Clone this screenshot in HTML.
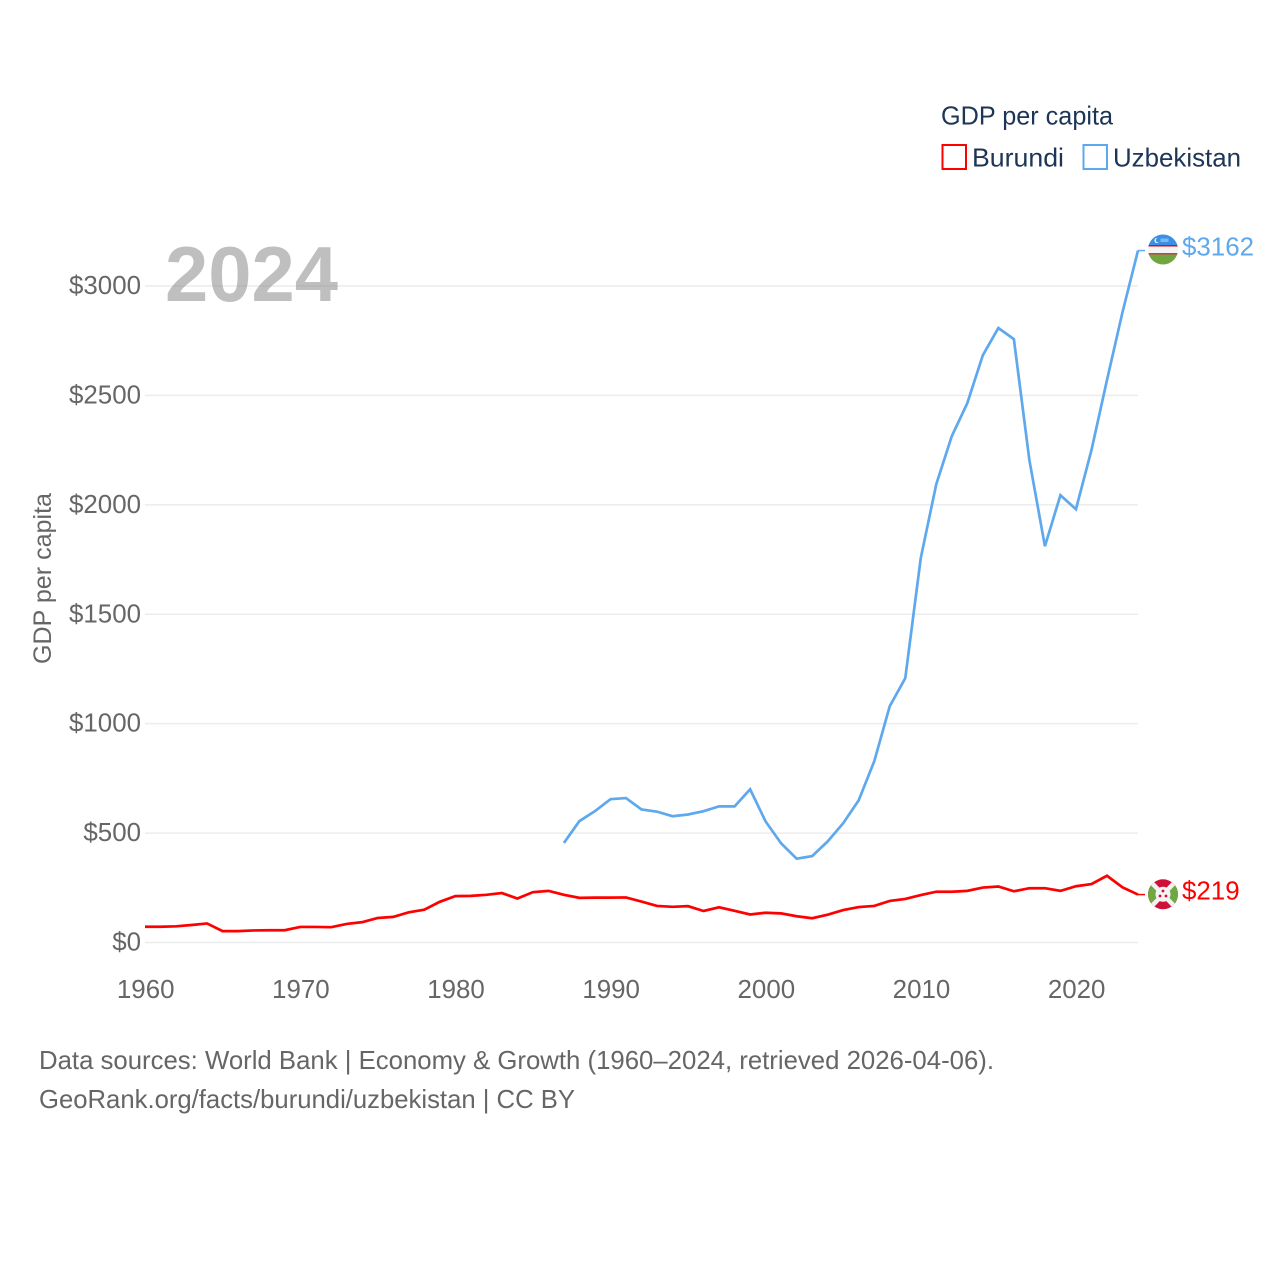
<!DOCTYPE html>
<html lang="en">
<head>
<meta charset="utf-8">
<title>GDP per capita: Burundi and Uzbekistan</title>
<style>
html,body{margin:0;padding:0;background:#fff;width:1280px;height:1280px;overflow:hidden}
svg{display:block}
text{font-family:"Liberation Sans",sans-serif}
</style>
</head>
<body>
<svg id="chart" width="1280" height="1280" viewBox="0 0 1280 1280" xmlns="http://www.w3.org/2000/svg">
  <defs>
    <clipPath id="flag-clip-uz"><circle cx="1163" cy="249.5" r="15"/></clipPath>
    <clipPath id="flag-clip-bi"><circle cx="1163" cy="894.3" r="15"/></clipPath>
  </defs>
  <rect width="1280" height="1280" fill="#fff"/>
  <g id="grid"></g>
  <g id="y-ticks"></g>
  <g id="x-ticks"></g>
  <g id="series"></g>

  <text x="165" y="301" font-size="78" font-weight="700" fill="#808080" fill-opacity="0.5" textLength="173" lengthAdjust="spacingAndGlyphs">2024</text>
  <text transform="translate(51 664) rotate(-90)" font-size="25" fill="#666" textLength="171" lengthAdjust="spacingAndGlyphs">GDP per capita</text>

  <g>
    <text x="941" y="124.5" font-size="26" fill="#1d3557" textLength="172" lengthAdjust="spacingAndGlyphs">GDP per capita</text>
    <rect x="942.5" y="145" width="23.5" height="24" fill="#fff" stroke="#ff0000" stroke-width="2"/>
    <text x="972" y="166.5" font-size="26" fill="#1d3557" textLength="92" lengthAdjust="spacingAndGlyphs">Burundi</text>
    <rect x="1083.5" y="145" width="23.5" height="24" fill="#fff" stroke="#5ea8ee" stroke-width="2"/>
    <text x="1113" y="166.5" font-size="26" fill="#1d3557" textLength="128" lengthAdjust="spacingAndGlyphs">Uzbekistan</text>
  </g>

  <g clip-path="url(#flag-clip-uz)">
    <rect x="1148" y="234" width="30" height="11" fill="#3a8fe6"/>
    <rect x="1148" y="245" width="30" height="1.5" fill="#ce1126"/>
    <rect x="1148" y="246.5" width="30" height="6.5" fill="#f4f4f4"/>
    <rect x="1148" y="253" width="30" height="1.5" fill="#c9404c"/>
    <rect x="1148" y="254.5" width="30" height="11" fill="#6fa63f"/>
    <circle cx="1157" cy="240.5" r="2.6" fill="#e8f2fc"/>
    <circle cx="1158.2" cy="240.2" r="2.3" fill="#3a8fe6"/>
    <rect x="1160.5" y="238.5" width="8" height="3.5" fill="#7fb6ee"/>
  </g>
  <g clip-path="url(#flag-clip-bi)">
    <rect x="1148" y="879" width="30" height="31" fill="#cf1037"/>
    <polygon points="1148,879 1163,894.3 1148,910" fill="#6fa843"/>
    <polygon points="1178,879 1163,894.3 1178,910" fill="#6fa843"/>
    <line x1="1148" y1="879" x2="1178" y2="910" stroke="#f2f2f2" stroke-width="4.5"/>
    <line x1="1178" y1="879" x2="1148" y2="910" stroke="#f2f2f2" stroke-width="4.5"/>
    <circle cx="1163" cy="894.3" r="7.5" fill="#f4f4f4"/>
    <circle cx="1163" cy="891" r="1.4" fill="#cf1037"/>
    <circle cx="1160" cy="896" r="1.4" fill="#cf1037"/>
    <circle cx="1166" cy="896" r="1.4" fill="#cf1037"/>
  </g>

  <g>
    <text x="39" y="1069" font-size="26" fill="#666" textLength="955" lengthAdjust="spacingAndGlyphs">Data sources: World Bank | Economy &amp; Growth (1960–2024, retrieved 2026-04-06).</text>
    <text x="39" y="1108" font-size="26" fill="#666" textLength="536" lengthAdjust="spacingAndGlyphs">GeoRank.org/facts/burundi/uzbekistan | CC BY</text>
  </g>
</svg>
<script>
const xTickYears = [1960, 1970, 1980, 1990, 2000, 2010, 2020];
const yTickValues = [0, 500, 1000, 1500, 2000, 2500, 3000];
const burundiStartYear = 1960;
const burundiValues = [72, 72, 74, 80, 87, 52, 52, 55, 56, 56, 71, 71, 70, 85, 93, 112, 117, 138, 150, 186, 212, 213, 218, 226, 201, 230, 236, 218, 204, 205, 205, 206, 187, 167, 163, 166, 144, 161, 145, 128, 136, 133, 120, 111, 127, 148, 162, 167, 190, 199, 217, 232, 232, 236, 251, 256, 234, 248, 248, 236, 257, 267, 305, 252, 219];
const uzbekistanStartYear = 1987;
const uzbekistanValues = [455, 555, 600, 655, 660, 608, 598, 577, 585, 600, 622, 622, 700, 553, 453, 383, 395, 462, 545, 650, 828, 1080, 1208, 1757, 2095, 2314, 2465, 2684, 2808, 2757, 2204, 1811, 2044, 1980, 2250, 2570, 2880, 3162];

const SVG_NS = 'http://www.w3.org/2000/svg';
const xScale = function (year) { return 145 + (year - 1960) * (1138 - 145) / 64; };
const yScale = function (value) { return 942.5 - value * 656.5 / 3000; };
const digitWidth = 14.4;

function makeEl(tag, parent, props) {
  const el = document.createElementNS(SVG_NS, tag);
  Object.keys(props).forEach(function (k) { el.setAttribute(k, props[k]); });
  parent.appendChild(el);
  return el;
}

const gridGroup = document.getElementById('grid');
const yGroup = document.getElementById('y-ticks');
yTickValues.forEach(function (v) {
  const y = yScale(v);
  const line = makeEl('line', gridGroup, { x1: 145, x2: 1138, y1: y, y2: y, stroke: '#ececec', 'stroke-width': 1.5 });
  
  
  const label = '$' + v;
  const t = makeEl('text', yGroup, { x: 141, y: y + 8, 'text-anchor': 'end', 'font-size': 26, fill: '#666', textLength: label.length * digitWidth, lengthAdjust: 'spacingAndGlyphs' });
  t.textContent = label;
  
  
});

const xGroup = document.getElementById('x-ticks');
xTickYears.forEach(function (yr) {
  const t = makeEl('text', xGroup, { x: xScale(yr) + 0.7, y: 998, 'text-anchor': 'middle', 'font-size': 26, fill: '#666', textLength: 57.6, lengthAdjust: 'spacingAndGlyphs' });
  t.textContent = String(yr);
  
  
});

function drawSeries(values, startYear, color, lineName, connectorName, labelName) {
  const seriesGroup = document.getElementById('series');
  const pts = values.map(function (v, i) { return xScale(startYear + i).toFixed(2) + ',' + yScale(v).toFixed(2); });
  const line = makeEl('polyline', seriesGroup, { points: pts.join(' '), fill: 'none', stroke: color, 'stroke-width': 2.7, 'stroke-linejoin': 'miter' });
  
  
  const last = values[values.length - 1];
  const lastX = xScale(startYear + values.length - 1);
  const lastY = yScale(last);
  const conn = makeEl('line', seriesGroup, { x1: lastX, x2: lastX + 7, y1: lastY, y2: lastY, stroke: color, 'stroke-width': 1.5 });
  
  
  const text = '$' + last;
  const label = makeEl('text', seriesGroup, { x: 1182, y: lastY + 5, 'font-size': 26, fill: color, textLength: text.length * digitWidth, lengthAdjust: 'spacingAndGlyphs' });
  label.textContent = text;
  
  
}

drawSeries(uzbekistanValues, uzbekistanStartYear, '#5ea8ee', 'line-uzbekistan', 'connector-uzbekistan', 'end-label-uzbekistan');
drawSeries(burundiValues, burundiStartYear, '#ff0000', 'line-burundi', 'connector-burundi', 'end-label-burundi');
</script>
</body>
</html>
